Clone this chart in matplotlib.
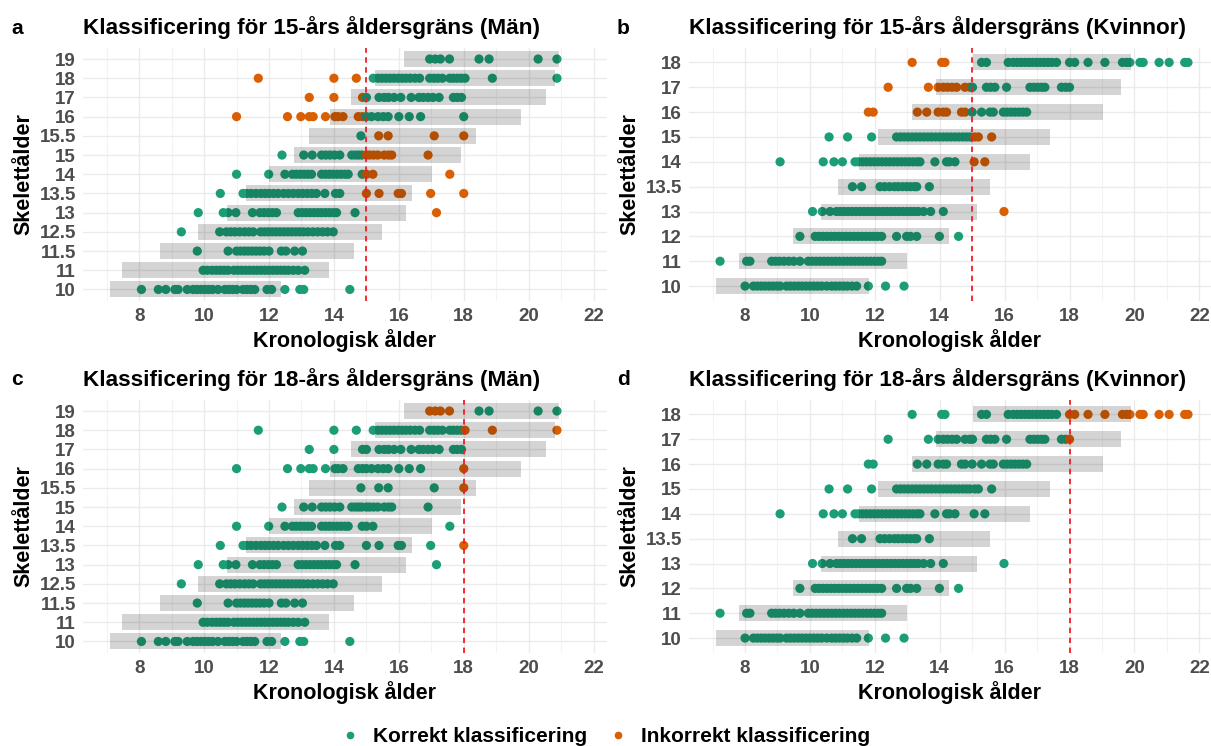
import matplotlib
matplotlib.use("Agg")
import matplotlib.pyplot as plt
from matplotlib.lines import Line2D
import numpy as np

plt.rcParams["font.family"] = ["Liberation Sans", "DejaVu Sans"]

# skeletal age categories (y) and chronological ages (x)
men_levels = ["10", "11", "11.5", "12.5", "13", "13.5", "14", "15", "15.5", "16", "17", "18", "19"]
men_x = [
    [8.07, 8.59, 8.82, 9.1, 9.2, 9.48, 9.66, 9.78, 9.9, 10.02, 10.14, 10.26, 10.43, 10.64, 10.76, 10.88, 11.0,
     11.2, 11.32, 11.44, 11.56, 11.94, 12.08, 12.49, 12.95, 13.07, 14.49],
    [9.97, 10.1, 10.25, 10.38, 10.5, 10.62, 10.74, 10.92, 11.04, 11.16, 11.28, 11.4, 11.52, 11.64, 11.76, 11.88,
     12.0, 12.12, 12.24, 12.36, 12.48, 12.6, 12.75, 12.9, 13.1],
    [9.79, 10.74, 11.0, 11.12, 11.24, 11.36, 11.48, 11.6, 11.72, 11.85, 12.0, 12.38, 12.52, 12.79, 13.03],
    [9.3, 10.48, 10.69, 10.82, 10.95, 11.1, 11.25, 11.38, 11.51, 11.74, 11.86, 11.98, 12.1, 12.22, 12.34, 12.46,
     12.58, 12.7, 12.82, 12.94, 13.06, 13.2, 13.35, 13.5, 13.65, 13.8, 13.98],
    [9.82, 10.59, 10.74, 10.98, 11.49, 11.72, 11.85, 11.98, 12.1, 12.23, 12.9, 13.02, 13.14, 13.26, 13.38, 13.5,
     13.62, 13.74, 13.86, 13.98, 14.08, 14.65, 17.16],
    [10.5, 11.2, 11.32, 11.45, 11.6, 11.75, 11.88, 12.0, 12.14, 12.28, 12.45, 12.6, 12.75, 12.9, 13.04, 13.18,
     13.32, 13.46, 13.72, 14.05, 14.18, 15.0, 15.39, 15.98, 16.08, 16.98, 18.0],
    [11.0, 11.99, 12.49, 12.72, 12.84, 12.96, 13.08, 13.2, 13.31, 13.62, 13.74, 13.86, 13.98, 14.1, 14.22, 14.34,
     14.44, 14.87, 15.0, 15.2, 17.57],
    [12.4, 13.07, 13.33, 13.62, 13.75, 13.88, 14.02, 14.18, 14.55, 14.66, 14.76, 14.86, 15.0, 15.1, 15.22, 15.35,
     15.55, 15.68, 15.78, 16.9],
    [14.83, 15.38, 15.67, 17.09, 18.0],
    [11.0, 12.57, 12.98, 13.24, 13.36, 13.74, 14.03, 14.13, 14.28, 14.75, 14.88, 15.0, 15.16, 15.36, 15.52, 15.67,
     16.0, 16.32, 16.67, 18.0],
    [13.24, 14.0, 14.88, 15.0, 15.39, 15.55, 15.68, 15.85, 16.06, 16.38, 16.62, 16.75, 16.9, 17.05, 17.24, 17.68,
     17.8, 17.93],
    [11.67, 14.0, 14.69, 15.21, 15.36, 15.48, 15.6, 15.72, 15.85, 15.98, 16.1, 16.22, 16.35, 16.5, 16.64, 16.95,
     17.08, 17.2, 17.34, 17.57, 17.68, 17.8, 17.92, 18.04, 18.88, 20.87],
    [16.95, 17.12, 17.28, 17.56, 18.47, 18.78, 20.29, 20.87],
]
men_band_lo = [7.10, 7.47, 8.65, 9.81, 10.70, 11.29, 12.00, 12.76, 13.23, 13.87, 14.52, 15.26, 16.15]
men_band_hi = [12.36, 13.84, 14.61, 15.49, 16.21, 16.39, 17.01, 17.91, 18.39, 19.76, 20.52, 20.80, 20.93]

women_levels = ["10", "11", "12", "13", "13.5", "14", "15", "16", "17", "18"]
women_x = [
    [8.0, 8.26, 8.38, 8.5, 8.62, 8.74, 8.86, 8.98, 9.08, 9.28, 9.4, 9.52, 9.64, 9.76, 9.88, 10.0, 10.12, 10.24,
     10.36, 10.52, 10.67, 10.79, 10.91, 11.03, 11.15, 11.3, 11.44, 11.8, 12.33, 12.9],
    [7.23, 8.05, 8.15, 8.82, 8.94, 9.06, 9.2, 9.35, 9.5, 9.69, 9.95, 10.07, 10.19, 10.31, 10.43, 10.55, 10.67,
     10.79, 10.91, 11.03, 11.15, 11.27, 11.39, 11.51, 11.63, 11.75, 11.87, 11.99, 12.1, 12.21],
    [9.69, 10.16, 10.28, 10.4, 10.52, 10.64, 10.76, 10.88, 11.0, 11.12, 11.24, 11.36, 11.48, 11.6, 11.72, 11.84,
     11.96, 12.08, 12.21, 12.67, 12.98, 13.1, 13.29, 13.99, 14.58],
    [10.08, 10.38, 10.62, 10.82, 10.94, 11.06, 11.18, 11.3, 11.42, 11.54, 11.66, 11.78, 11.9, 12.02, 12.14, 12.26,
     12.38, 12.5, 12.62, 12.74, 12.86, 12.98, 13.1, 13.22, 13.34, 13.5, 13.72, 14.11, 15.98],
    [11.31, 11.59, 12.16, 12.3, 12.45, 12.6, 12.72, 12.85, 12.98, 13.1, 13.22, 13.29, 13.68],
    [9.08, 10.41, 10.74, 11.0, 11.39, 11.5, 11.62, 11.74, 11.86, 11.98, 12.1, 12.22, 12.34, 12.46, 12.58, 12.7,
     12.82, 12.94, 13.06, 13.18, 13.3, 13.39, 13.85, 14.21, 14.3, 14.47, 15.06, 15.39],
    [10.59, 11.16, 11.9, 12.67, 12.79, 12.91, 13.03, 13.15, 13.27, 13.39, 13.51, 13.63, 13.75, 13.87, 13.99, 14.11,
     14.23, 14.35, 14.47, 14.59, 14.71, 14.82, 14.93, 15.08, 15.19, 15.6],
    [11.8, 11.95, 13.31, 13.6, 13.95, 14.11, 14.21, 14.67, 14.78, 15.0, 15.29, 15.55, 15.65, 15.96, 16.08, 16.2,
     16.32, 16.44, 16.56, 16.68],
    [12.41, 13.65, 13.95, 14.11, 14.24, 14.38, 14.52, 14.78, 14.93, 15.01, 15.44, 15.57, 15.7, 16.06, 16.78, 16.9,
     17.02, 17.14, 17.24, 17.75, 17.88, 18.0],
    [13.15, 14.06, 14.16, 15.29, 15.44, 16.11, 16.26, 16.38, 16.5, 16.62, 16.74, 16.86, 16.98, 17.1, 17.22, 17.34,
     17.46, 17.6, 18.0, 18.16, 18.57, 19.09, 19.63, 19.76, 19.86, 20.17, 20.27, 20.76, 21.07, 21.55, 21.65],
]
women_band_lo = [7.09, 7.82, 9.49, 10.34, 10.88, 11.51, 12.11, 13.16, 13.87, 15.03]
women_band_hi = [11.82, 13.00, 14.29, 15.15, 15.56, 16.79, 17.39, 19.03, 19.59, 19.89]

GREEN, ORANGE = "#1B9E77", "#D95F02"
W, H = 1211, 746


def panel(ax, levels, xs, lo, hi, limit, title, letter, xpix, ypix):
    ypos = np.arange(1, len(levels) + 1)
    for i, row in enumerate(xs):
        skel = float(levels[i])
        pred_adult = skel >= limit + 1
        cols = [GREEN if (x >= limit) == pred_adult else ORANGE for x in row]
        ax.scatter(row, [ypos[i]] * len(row), s=44, c=cols, linewidths=0, zorder=2)
    ax.hlines(ypos, lo, hi, color="black", alpha=0.17, linewidth=11.5, zorder=3)
    ax.axvline(limit, color="#F21D24", lw=1.3, ls=(0, (3, 2.5)), zorder=4)
    ax.set_yticks(ypos)
    ax.set_yticklabels(levels)
    ax.set_ylim(0.4, len(levels) + 0.6)
    ax.set_xticks(np.arange(8, 23, 2))
    ax.set_xticks(np.arange(7, 22, 2), minor=True)
    ax.grid(True, which="major", color="#EBEBEB", lw=1.0, zorder=0)
    ax.grid(True, which="minor", axis="x", color="#F3F3F3", lw=0.8, zorder=0)
    ax.set_axisbelow(True)
    for s in ax.spines.values():
        s.set_visible(False)
    ax.tick_params(length=0, labelsize=13.5, labelcolor="#4D4D4D", pad=5)
    ax.tick_params(axis="x", which="minor", length=0)
    for lab in ax.get_xticklabels() + ax.get_yticklabels():
        lab.set_fontweight("bold")
    ax.set_xlabel("Kronologisk ålder", fontsize=15.5, fontweight="bold", labelpad=3)
    ax.set_ylabel("Skelettålder", fontsize=15.5, fontweight="bold", labelpad=4)
    ax.set_title(title, loc="left", fontsize=16.2, fontweight="bold", pad=10)
    ax.figure.text(xpix / W, 1 - (ypix - 14) / H, letter, fontsize=15, fontweight="bold",
                   va="baseline", ha="left")


fig = plt.figure(figsize=(W / 100, H / 100), dpi=100)
lx, rx = 83 / W, 688.9 / W
wa, wb = (606.6 - 83) / W, (W - 688.9) / W
hh = 253.5 / H
ax_a = fig.add_axes([lx, 1 - 301 / H, wa, hh])
ax_b = fig.add_axes([rx, 1 - 301 / H, wb, hh])
ax_c = fig.add_axes([lx, 1 - 653 / H, wa, hh])
ax_d = fig.add_axes([rx, 1 - 653 / H, wb, hh])

panel(ax_a, men_levels, men_x, men_band_lo, men_band_hi, 15,
      "Klassificering för 15-års åldersgräns (Män)", "a", 11, 47.5)
panel(ax_b, women_levels, women_x, women_band_lo, women_band_hi, 15,
      "Klassificering för 15-års åldersgräns (Kvinnor)", "b", 617, 47.5)
panel(ax_c, men_levels, men_x, men_band_lo, men_band_hi, 18,
      "Klassificering för 18-års åldersgräns (Män)", "c", 11, 399.5)
panel(ax_d, women_levels, women_x, women_band_lo, women_band_hi, 18,
      "Klassificering för 18-års åldersgräns (Kvinnor)", "d", 617, 399.5)
for ax in (ax_a, ax_c):
    ax.set_xlim(6.27, 22.4)
for ax in (ax_b, ax_d):
    ax.set_xlim(6.27, 22.36)

handles = [Line2D([], [], ls="", marker="o", ms=5.5, color=GREEN, mec="none"),
           Line2D([], [], ls="", marker="o", ms=5.5, color=ORANGE, mec="none")]
fig.legend(handles, ["Korrekt klassificering", "Inkorrekt klassificering"], loc="center",
           bbox_to_anchor=(605 / W, 1 - 737 / H), ncol=2, frameon=False,
           prop={"weight": "bold", "size": 15}, handletextpad=0.6, columnspacing=1.0,
           handlelength=1.0)

fig.savefig("out.png", dpi=100)
